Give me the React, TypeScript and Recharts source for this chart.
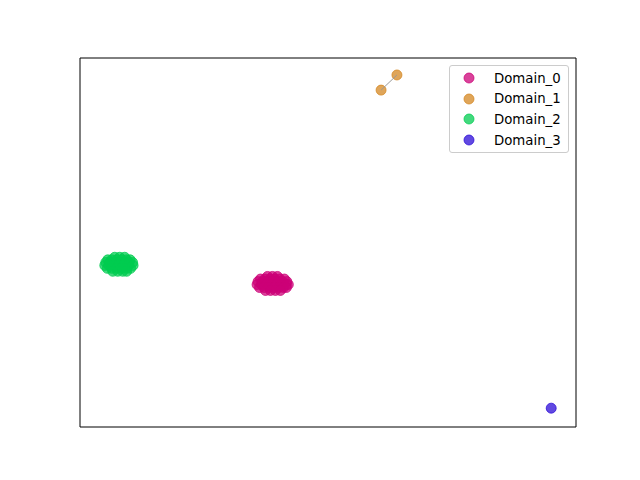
import { ScatterChart, Scatter, XAxis, YAxis, ReferenceArea } from "recharts";

// embedding coordinates, axes run 0..100 on both sides
const domain0 = [
  { x: 37.8, y: 40.8 }, { x: 38.8, y: 40.8 }, { x: 39.8, y: 40.8 },
  { x: 36.4, y: 40.1 }, { x: 37.3, y: 40.1 }, { x: 38.3, y: 40.1 }, { x: 39.3, y: 40.1 }, { x: 40.3, y: 40.1 }, { x: 41.2, y: 40.1 },
  { x: 35.9, y: 39.4 }, { x: 36.8, y: 39.4 }, { x: 37.8, y: 39.4 }, { x: 38.8, y: 39.4 }, { x: 39.8, y: 39.4 }, { x: 40.8, y: 39.4 }, { x: 41.7, y: 39.4 },
  { x: 35.7, y: 38.6 }, { x: 36.6, y: 38.6 }, { x: 37.6, y: 38.6 }, { x: 38.6, y: 38.6 }, { x: 39.6, y: 38.6 }, { x: 40.6, y: 38.6 }, { x: 41.6, y: 38.6 }, { x: 42.0, y: 38.6 },
  { x: 36.2, y: 37.8 }, { x: 37.1, y: 37.8 }, { x: 38.1, y: 37.8 }, { x: 39.1, y: 37.8 }, { x: 40.1, y: 37.8 }, { x: 41.0, y: 37.8 }, { x: 41.6, y: 37.8 },
  { x: 37.4, y: 37.0 }, { x: 38.4, y: 37.0 }, { x: 39.4, y: 37.0 }, { x: 40.4, y: 37.0 },
];
const domain1 = [
  { x: 60.7, y: 91.3 },
  { x: 63.9, y: 95.4 },
];
const domain2 = [
  { x: 7.0, y: 46.0 }, { x: 8.0, y: 46.0 }, { x: 9.0, y: 46.0 },
  { x: 5.6, y: 45.3 }, { x: 6.4, y: 45.3 }, { x: 7.4, y: 45.3 }, { x: 8.4, y: 45.3 }, { x: 9.4, y: 45.3 }, { x: 10.1, y: 45.3 },
  { x: 5.2, y: 44.6 }, { x: 6.0, y: 44.6 }, { x: 7.0, y: 44.6 }, { x: 8.0, y: 44.6 }, { x: 9.0, y: 44.6 }, { x: 9.9, y: 44.6 }, { x: 10.6, y: 44.6 },
  { x: 5.0, y: 43.8 }, { x: 5.8, y: 43.8 }, { x: 6.8, y: 43.8 }, { x: 7.8, y: 43.8 }, { x: 8.8, y: 43.8 }, { x: 9.8, y: 43.8 }, { x: 10.7, y: 43.8 },
  { x: 5.5, y: 43.0 }, { x: 6.4, y: 43.0 }, { x: 7.4, y: 43.0 }, { x: 8.4, y: 43.0 }, { x: 9.4, y: 43.0 }, { x: 10.2, y: 43.0 },
  { x: 6.6, y: 42.2 }, { x: 7.6, y: 42.2 }, { x: 8.6, y: 42.2 }, { x: 9.4, y: 42.2 },
];
const domain3 = [{ x: 95.0, y: 5.1 }];

const names = ["Domain_0", "Domain_1", "Domain_2", "Domain_3"];
const colors = ["#cc0077", "#d4861f", "#00cc50", "#2a0ad6"];

const dot = (color: string) => (props: any) => (
  <circle
    cx={props.cx}
    cy={props.cy}
    r={5}
    fill={color}
    fillOpacity={0.74}
    stroke={color}
    strokeOpacity={0.74}
    strokeWidth={1}
  />
);

const LegendBox = () => (
  <div
    style={{
      position: "absolute",
      left: 449,
      top: 65,
      width: 120,
      height: 88,
      border: "1px solid #cccccc",
      borderRadius: 3,
      background: "rgba(255,255,255,0.8)",
      fontFamily: "DejaVu Sans",
      fontSize: 13.3,
      boxSizing: "border-box",
      paddingTop: 2,
    }}
  >
    {names.map((n, i) => (
      <div key={n} style={{ display: "flex", alignItems: "center", height: 20.6 }}>
        <svg width={44} height={20} style={{ flex: "none" }}>
          <circle cx={19} cy={10} r={5} fill={colors[i]} fillOpacity={0.74} stroke={colors[i]} strokeOpacity={0.74} />
        </svg>
        <span style={{ color: "#000" }}>{n}</span>
      </div>
    ))}
  </div>
);

export default function App() {
  const series = [domain0, domain1, domain2, domain3];
  return (
    <div style={{ position: "absolute", left: 0, top: 0, width: 640, height: 480, background: "#fff" }}>
      <ScatterChart width={640} height={480} margin={{ top: 58, right: 64, bottom: 53, left: 80 }}>
        <XAxis type="number" dataKey="x" domain={[0, 100]} hide />
        <YAxis type="number" dataKey="y" domain={[0, 100]} hide />
        <ReferenceArea x1={0} x2={100} y1={0} y2={100} fill="none" stroke="#000" strokeWidth={1} />
        {series.map((d, i) => (
          <Scatter
            key={names[i]}
            name={names[i]}
            data={d}
            shape={dot(colors[i])}
            isAnimationActive={false}
          />
        ))}
        {/* connector between the two Domain_1 points, drawn over the markers */}
        <Scatter
          name="Domain_1 link"
          data={domain1}
          shape={() => <g />}
          line={{ stroke: "#999999", strokeWidth: 1 }}
          isAnimationActive={false}
        />
      </ScatterChart>
      <LegendBox />
    </div>
  );
}
